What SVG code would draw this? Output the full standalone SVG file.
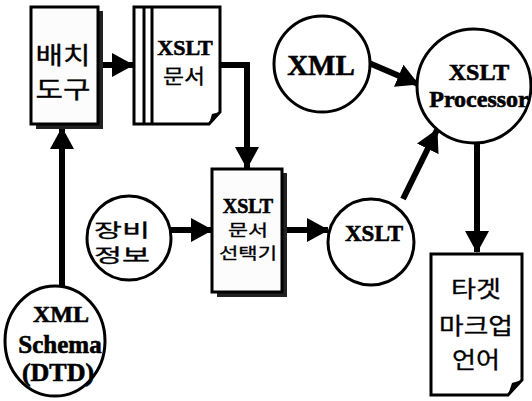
<svg xmlns="http://www.w3.org/2000/svg" width="532" height="401" viewBox="0 0 532 401">
  <style>
    .box { fill: #fcfcfc; stroke: #000; stroke-width: 3; }
    .shadow { fill: #222; }
    .node { fill: #fff; stroke: #000; stroke-width: 3; }
    .doc { fill: #fff; stroke: #000; stroke-width: 3; stroke-linejoin: miter; }
    .lat { font-family: "Liberation Serif", "Times New Roman", serif; font-weight: bold; fill: #000; stroke: #000; stroke-width: 0.6; text-anchor: middle; }
    .kor { font-family: "Noto Sans CJK KR", "Noto Sans", sans-serif; fill: #000; stroke: #000; stroke-width: 0.3; text-anchor: middle; }
    .wire { stroke: #000; stroke-width: 6; fill: none; }
  </style>
  <defs>
    <marker id="head" viewBox="0 0 22 24" refX="21" refY="12" markerWidth="22" markerHeight="24" markerUnits="userSpaceOnUse" orient="auto">
      <path d="M0,0 L22,12 L0,24 Z" fill="#000"/>
    </marker>
  </defs>

  <rect width="532" height="401" fill="#fff"/>

  <!-- connectors -->
  <g id="connectors">
    <line class="wire" x1="100" y1="65" x2="133" y2="65" marker-end="url(#head)"/>
    <polyline class="wire" points="220,65 247,65 247,168" marker-end="url(#head)"/>
    <line class="wire" x1="62" y1="287" x2="62" y2="128" marker-end="url(#head)"/>
    <line class="wire" x1="170" y1="230" x2="212" y2="230" marker-end="url(#head)"/>
    <line class="wire" x1="286" y1="230" x2="328" y2="230" marker-end="url(#head)"/>
    <line class="wire" x1="369" y1="63" x2="418" y2="84" marker-end="url(#head)"/>
    <line class="wire" x1="403" y1="199" x2="437" y2="130" marker-end="url(#head)"/>
    <line class="wire" x1="477" y1="143" x2="477" y2="252" marker-end="url(#head)"/>
  </g>

  <!-- deployment tool -->
  <g id="deploy-tool">
    <rect class="shadow" x="36" y="11" width="67" height="118"/>
    <rect class="box" x="31" y="7" width="67" height="117"/>
    <text class="kor" x="63" y="64" font-size="24" textLength="55" lengthAdjust="spacingAndGlyphs">배치</text>
    <text class="kor" x="63" y="98" font-size="24" textLength="55" lengthAdjust="spacingAndGlyphs">도구</text>
  </g>

  <!-- XSLT documents -->
  <g id="xslt-docs">
    <path class="doc" d="M134,7 L220,7 L220,112 L209,124 L134,124 Z"/>
    <path d="M220,112 L212,114 L209,124 Z" fill="#000"/>
    <line x1="144" y1="7" x2="144" y2="124" stroke="#000" stroke-width="3"/>
    <line x1="152" y1="7" x2="152" y2="124" stroke="#000" stroke-width="3"/>
    <text class="lat" x="185" y="55" font-size="22">XSLT</text>
    <text class="kor" x="184" y="84" font-size="20" textLength="42" lengthAdjust="spacingAndGlyphs">문서</text>
  </g>

  <!-- XML -->
  <g id="xml">
    <circle class="node" cx="322" cy="64" r="48"/>
    <text class="lat" x="321" y="75" font-size="29">XML</text>
  </g>

  <!-- XSLT processor -->
  <g id="xslt-processor">
    <circle class="node" cx="474" cy="86" r="57"/>
    <text class="lat" x="479" y="80" font-size="24">XSLT</text>
    <text class="lat" x="479" y="107" font-size="24">Processor</text>
  </g>

  <!-- device info -->
  <g id="device-info">
    <circle class="node" cx="129" cy="238" r="42"/>
    <text class="kor" x="122" y="237" font-size="18" textLength="56" lengthAdjust="spacingAndGlyphs">장비</text>
    <text class="kor" x="122" y="262" font-size="18" textLength="56" lengthAdjust="spacingAndGlyphs">정보</text>
  </g>

  <!-- XSLT document selector -->
  <g id="doc-selector">
    <rect class="shadow" x="217" y="173" width="70" height="124"/>
    <rect class="box" x="212" y="169" width="70" height="123"/>
    <text class="lat" x="248" y="213" font-size="20">XSLT</text>
    <text class="kor" x="248" y="236" font-size="16" textLength="40" lengthAdjust="spacingAndGlyphs">문서</text>
    <text class="kor" x="248" y="259" font-size="16" textLength="58" lengthAdjust="spacingAndGlyphs">선택기</text>
  </g>

  <!-- XSLT -->
  <g id="xslt">
    <circle class="node" cx="371" cy="242" r="43"/>
    <text class="lat" x="374" y="241" font-size="23">XSLT</text>
  </g>

  <!-- XML Schema (DTD) -->
  <g id="xml-schema">
    <ellipse class="node" cx="55" cy="341" rx="50" ry="55"/>
    <text class="lat" x="61" y="322" font-size="24">XML</text>
    <text class="lat" x="60" y="353" font-size="25">Schema</text>
    <text class="lat" x="58" y="381" font-size="26">(DTD)</text>
  </g>

  <!-- target markup language -->
  <g id="target-markup">
    <path class="doc" d="M431,254 L522,254 L522,380 L508,395 L431,395 Z"/>
    <path d="M522,380 L512,383 L508,395 Z" fill="#000"/>
    <text class="kor" x="476" y="297" font-size="23" textLength="50" lengthAdjust="spacingAndGlyphs">타겟</text>
    <text class="kor" x="476" y="334" font-size="23" textLength="74" lengthAdjust="spacingAndGlyphs">마크업</text>
    <text class="kor" x="476" y="368" font-size="23" textLength="48" lengthAdjust="spacingAndGlyphs">언어</text>
  </g>
</svg>
